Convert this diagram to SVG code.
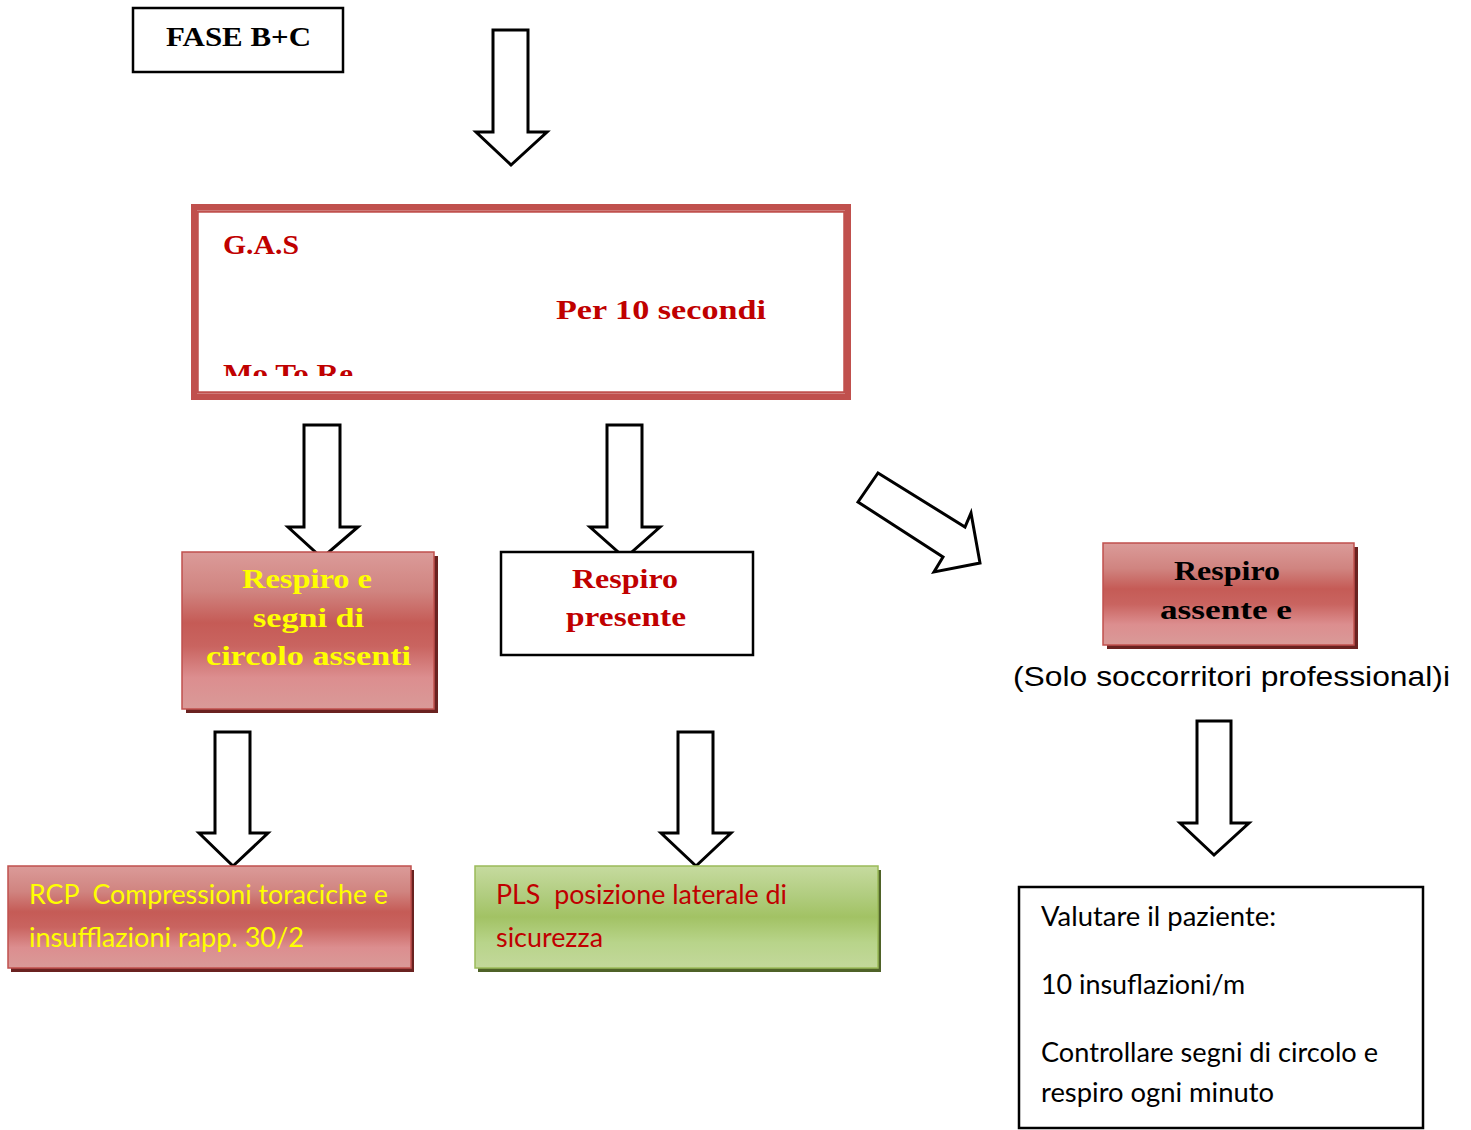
<svg xmlns="http://www.w3.org/2000/svg" width="1471" height="1130" viewBox="0 0 1471 1130">
  <defs>
    <linearGradient id="pink" x1="0" y1="0" x2="0" y2="1">
      <stop offset="0" stop-color="#DB9B99"/>
      <stop offset="0.25" stop-color="#D08480"/>
      <stop offset="0.45" stop-color="#C55B56"/>
      <stop offset="0.6" stop-color="#C96460"/>
      <stop offset="0.8" stop-color="#DC8E8F"/>
      <stop offset="1" stop-color="#D99A98"/>
    </linearGradient>
    <linearGradient id="green" x1="0" y1="0" x2="0" y2="1">
      <stop offset="0" stop-color="#C6DB9F"/>
      <stop offset="0.3" stop-color="#B0CC7E"/>
      <stop offset="0.5" stop-color="#A2C264"/>
      <stop offset="0.75" stop-color="#B8D48A"/>
      <stop offset="1" stop-color="#C3D89B"/>
    </linearGradient>
    <clipPath id="gasclip">
      <rect x="198" y="212" width="646" height="164"/>
    </clipPath>
  </defs>
  <style>
    .arrow { fill: #FFFFFF; stroke: #000000; stroke-width: 3; stroke-linejoin: miter; }
    .plain { fill: #FFFFFF; stroke: #000000; stroke-width: 2.5; }
    .pinkbox { fill: url(#pink); stroke: #C0504D; stroke-width: 1.5; }
    .pinkshadow { fill: #6A2220; }
    .greenbox { fill: url(#green); stroke: #9BBB59; stroke-width: 1.5; }
    .greenshadow { fill: #4F6228; }
    .serif { font-family: "Liberation Serif", "Times New Roman", serif; font-weight: bold; font-size: 28px; }
    .sans { font-family: "Liberation Sans", Arial, sans-serif; }
    .cal { font-family: Lato, "Open Sans", sans-serif; white-space: pre; }
  </style>

  <g id="connectors">
    <polygon class="arrow" points="493,30 528,30 528,132 547,132 511,165 476,132 493,132"/>
    <polygon class="arrow" points="304,425 340,425 340,527 358,527 322,558 288,527 304,527"/>
    <polygon class="arrow" points="607,425 642,425 642,527 660,527 625,558 590,527 607,527"/>
    <polygon class="arrow" points="878,473 965,527 971,513 980,563 934,572 943,557 858,502"/>
    <polygon class="arrow" points="215,732 250,732 250,833 268,833 233,866 199,833 215,833"/>
    <polygon class="arrow" points="678,732 713,732 713,833 731,833 696,866 661,833 678,833"/>
    <polygon class="arrow" points="1197,721 1231,721 1231,823 1249,823 1214,855 1180,823 1197,823"/>
  </g>

  <g id="fase">
    <rect class="plain" x="133" y="8" width="210" height="64"/>
    <text class="serif" x="166" y="46" textLength="145" lengthAdjust="spacingAndGlyphs">FASE B+C</text>
  </g>

  <g id="gas">
    <rect x="194" y="207" width="654" height="190" fill="#FFFFFF" stroke="#C0504D" stroke-width="6"/>
    <rect x="197.5" y="211.5" width="647" height="181" fill="none" stroke="#C0504D" stroke-width="2.5"/>
    <text class="serif" x="223" y="254" fill="#C00000" textLength="76" lengthAdjust="spacingAndGlyphs">G.A.S</text>
    <text class="serif" x="556" y="319" fill="#C00000" textLength="210" lengthAdjust="spacingAndGlyphs">Per 10 secondi</text>
    <g clip-path="url(#gasclip)">
      <text class="serif" x="223" y="383" fill="#C00000" textLength="130" lengthAdjust="spacingAndGlyphs">Mo To Re</text>
    </g>
  </g>

  <g id="assenti">
    <rect class="pinkshadow" x="186" y="556" width="252" height="157"/>
    <rect class="pinkbox" x="182" y="552" width="252" height="157"/>
    <text class="serif" x="242" y="588" fill="#FFFF00" textLength="130" lengthAdjust="spacingAndGlyphs">Respiro e</text>
    <text class="serif" x="253" y="627" fill="#FFFF00" textLength="111" lengthAdjust="spacingAndGlyphs">segni di</text>
    <text class="serif" x="206" y="665" fill="#FFFF00" textLength="205" lengthAdjust="spacingAndGlyphs">circolo assenti</text>
  </g>

  <g id="presente">
    <rect class="plain" x="501" y="552" width="252" height="103"/>
    <text class="serif" x="572" y="588" fill="#C00000" textLength="106" lengthAdjust="spacingAndGlyphs">Respiro</text>
    <text class="serif" x="566" y="626" fill="#C00000" textLength="120" lengthAdjust="spacingAndGlyphs">presente</text>
  </g>

  <g id="assente">
    <rect class="pinkshadow" x="1107" y="547" width="251" height="102"/>
    <rect class="pinkbox" x="1103" y="543" width="251" height="102"/>
    <text class="serif" x="1174" y="580" fill="#000000" textLength="106" lengthAdjust="spacingAndGlyphs">Respiro</text>
    <text class="serif" x="1160" y="619" fill="#000000" textLength="132" lengthAdjust="spacingAndGlyphs">assente e</text>
  </g>

  <g id="solo">
    <text class="sans" x="1013" y="686" font-size="28" fill="#000000" textLength="437" lengthAdjust="spacingAndGlyphs">(Solo soccorritori professional)i</text>
  </g>

  <g id="rcp">
    <rect class="pinkshadow" x="11" y="870" width="403" height="102"/>
    <rect class="pinkbox" x="8" y="866" width="403" height="102"/>
    <text class="cal" x="29" y="904" font-size="27" fill="#FFFF00" textLength="359" lengthAdjust="spacingAndGlyphs">RCP  Compressioni toraciche e</text>
    <text class="cal" x="29" y="947" font-size="27" fill="#FFFF00" textLength="275" lengthAdjust="spacingAndGlyphs">insufflazioni rapp. 30/2</text>
  </g>

  <g id="pls">
    <rect class="greenshadow" x="478" y="870" width="403" height="102"/>
    <rect class="greenbox" x="475" y="866" width="403" height="102"/>
    <text class="cal" x="496" y="904" font-size="27" fill="#C00000" textLength="291" lengthAdjust="spacingAndGlyphs">PLS  posizione laterale di</text>
    <text class="cal" x="496" y="947" font-size="27" fill="#C00000" textLength="107" lengthAdjust="spacingAndGlyphs">sicurezza</text>
  </g>

  <g id="valutare">
    <rect class="plain" x="1019" y="887" width="404" height="241"/>
    <text class="cal" x="1041" y="926" font-size="27" fill="#000000" textLength="235" lengthAdjust="spacingAndGlyphs">Valutare il paziente:</text>
    <text class="cal" x="1041" y="994" font-size="27" fill="#000000" textLength="204" lengthAdjust="spacingAndGlyphs">10 insuflazioni/m</text>
    <text class="cal" x="1041" y="1062" font-size="27" fill="#000000" textLength="337" lengthAdjust="spacingAndGlyphs">Controllare segni di circolo e</text>
    <text class="cal" x="1041" y="1102" font-size="27" fill="#000000" textLength="233" lengthAdjust="spacingAndGlyphs">respiro ogni minuto</text>
  </g>
</svg>
